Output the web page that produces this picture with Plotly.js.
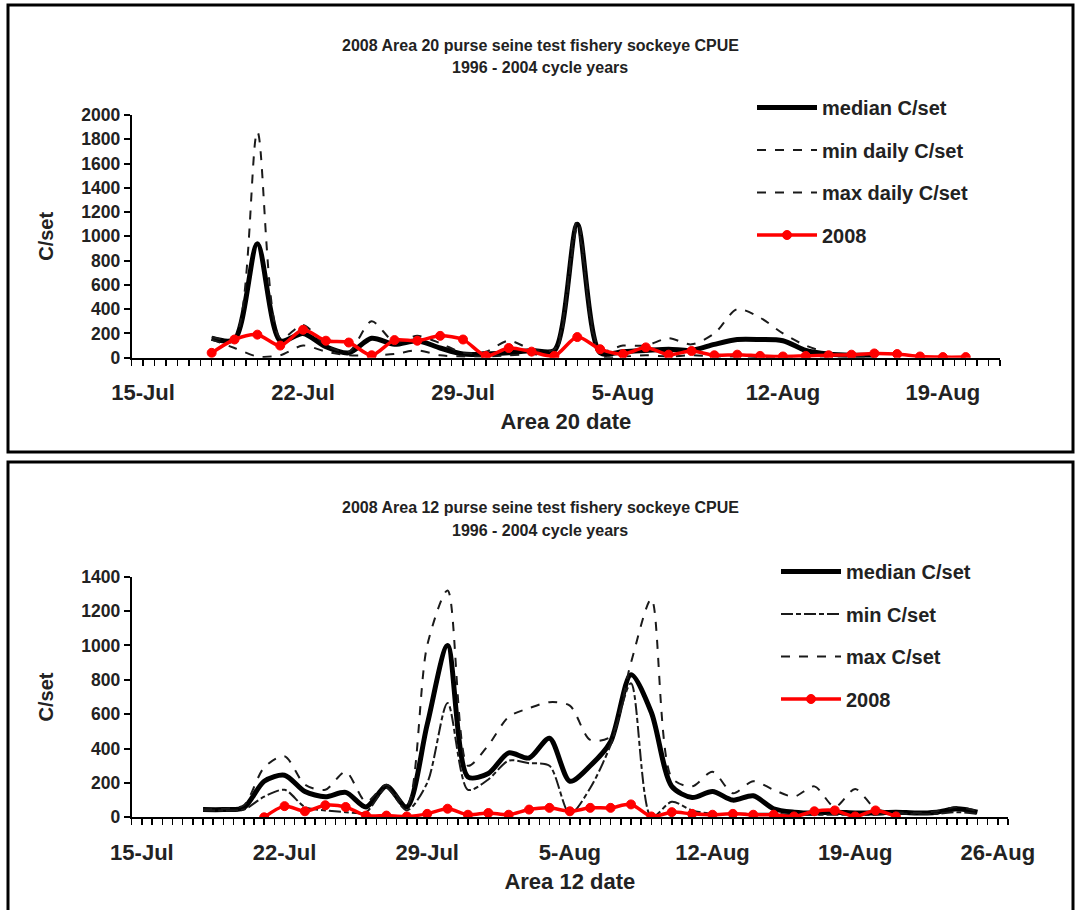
<!DOCTYPE html>
<html>
<head>
<meta charset="utf-8">
<script src="https://cdn.plot.ly/plotly-3.0.1.min.js"></script>
<style>html,body{margin:0;padding:0;background:#fff;}#chart{width:1075px;height:910px;}</style>
</head>
<body>
<div id="chart"></div>
<script>
// ---------- Area 20 (top chart) ----------
const a20Dates = ['2008-07-18','2008-07-19','2008-07-20','2008-07-21','2008-07-22','2008-07-23','2008-07-24','2008-07-25','2008-07-26','2008-07-27','2008-07-28','2008-07-29','2008-07-30','2008-07-31','2008-08-01','2008-08-02','2008-08-03','2008-08-04','2008-08-05','2008-08-06','2008-08-07','2008-08-08','2008-08-09','2008-08-10','2008-08-11','2008-08-12','2008-08-13','2008-08-14','2008-08-15','2008-08-16'];
const a20Median = [160,150,940,140,200,90,40,160,110,140,80,30,30,40,60,60,1100,40,50,60,70,60,110,150,150,140,60,30,20,20];
const a20Min    = [150,80,10,20,100,50,20,20,30,60,20,10,10,20,30,30,1060,20,10,20,10,20,10,10,5,10,10,10,10,10];
const a20Max    = [170,160,1860,160,270,100,50,300,130,180,120,40,50,140,70,70,1130,60,100,100,160,110,200,400,330,200,100,40,30,30];
const a20Dates2008 = ['2008-07-18','2008-07-19','2008-07-20','2008-07-21','2008-07-22','2008-07-23','2008-07-24','2008-07-25','2008-07-26','2008-07-27','2008-07-28','2008-07-29','2008-07-30','2008-07-31','2008-08-01','2008-08-02','2008-08-03','2008-08-04','2008-08-05','2008-08-06','2008-08-07','2008-08-08','2008-08-09','2008-08-10','2008-08-11','2008-08-12','2008-08-13','2008-08-14','2008-08-15','2008-08-16','2008-08-17','2008-08-18','2008-08-19','2008-08-20'];
const a20Y2008  = [40,150,190,100,230,140,125,20,145,140,180,150,15,80,50,15,170,70,30,85,25,55,20,25,15,10,15,20,25,35,30,10,5,5];

// ---------- Area 12 (bottom chart) ----------
const a12Dates = ['2008-07-18','2008-07-19','2008-07-20','2008-07-21','2008-07-22','2008-07-23','2008-07-24','2008-07-25','2008-07-26','2008-07-27','2008-07-28','2008-07-29','2008-07-30','2008-07-31','2008-08-01','2008-08-02','2008-08-03','2008-08-04','2008-08-05','2008-08-06','2008-08-07','2008-08-08','2008-08-09','2008-08-10','2008-08-11','2008-08-12','2008-08-13','2008-08-14','2008-08-15','2008-08-16','2008-08-17','2008-08-18','2008-08-19','2008-08-20','2008-08-21','2008-08-22','2008-08-23','2008-08-24','2008-08-25'];
const a12Median = [45,45,55,210,245,150,120,145,60,180,60,540,1000,235,255,375,345,460,210,300,440,830,610,180,115,150,100,125,50,30,25,30,25,25,30,25,30,50,30];
const a12Min    = [40,40,45,120,160,60,40,30,30,170,40,200,665,160,220,330,315,300,20,170,420,780,0,90,40,20,20,20,20,15,15,15,15,15,20,20,20,30,20];
const a12Max    = [45,50,70,290,355,190,160,265,90,190,70,1000,1320,300,420,585,635,670,650,450,470,900,1270,230,180,265,140,210,160,120,180,60,165,50,30,25,35,60,35];
const a12Dates2008 = ['2008-07-21','2008-07-22','2008-07-23','2008-07-24','2008-07-25','2008-07-26','2008-07-27','2008-07-28','2008-07-29','2008-07-30','2008-07-31','2008-08-01','2008-08-02','2008-08-03','2008-08-04','2008-08-05','2008-08-06','2008-08-07','2008-08-08','2008-08-09','2008-08-10','2008-08-11','2008-08-12','2008-08-13','2008-08-14','2008-08-15','2008-08-16','2008-08-17','2008-08-18','2008-08-19','2008-08-20','2008-08-21'];
const a12Y2008  = [0,65,35,70,60,10,10,5,20,50,15,25,15,45,55,35,55,55,75,5,30,20,15,20,15,15,5,35,40,5,40,5];

const topTitle = ['2008 Area 20 purse seine test fishery sockeye CPUE','1996 - 2004 cycle years'];
const botTitle = ['2008 Area 12 purse seine test fishery sockeye CPUE','1996 - 2004 cycle years'];
const topNames = ['median C/set','min daily C/set','max daily C/set','2008'];
const botNames = ['median C/set','min C/set','max C/set','2008'];

const W = 1075, H = 910;
const px = v => v / W;
const py = v => 1 - v / H;

const thin = '#1a1a1a';
const medLine = {color:'#000', width:5, shape:'spline', smoothing:0.8};
const redMarker = {symbol:'circle', size:9, color:'#ff0000', line:{color:'#ff0000', width:1}};

function series(x, y, name, line, xa, ya, leg, grp, marker){
  const t = {x:x, y:y, name:name, type:'scatter', mode: marker ? 'lines+markers' : 'lines',
    line: line, xaxis: xa, yaxis: ya, legend: leg, legendgroup: grp, hoverinfo:'skip'};
  if (marker) t.marker = marker;
  return t;
}

const traces = [
  series(a20Dates, a20Median, topNames[0], medLine, 'x', 'y', 'legend', 'a', null),
  series(a20Dates, a20Min, topNames[1], {color:thin, width:2, dash:'dash', shape:'spline', smoothing:0.8}, 'x', 'y', 'legend', 'b', null),
  series(a20Dates, a20Max, topNames[2], {color:thin, width:2, dash:'dash', shape:'spline', smoothing:0.8}, 'x', 'y', 'legend', 'c', null),
  series(a20Dates2008, a20Y2008, topNames[3], {color:'#ff0000', width:3.5, shape:'spline', smoothing:0.8}, 'x', 'y', 'legend', 'd', redMarker),
  series(a12Dates, a12Median, botNames[0], medLine, 'x2', 'y2', 'legend2', 'e', null),
  series(a12Dates, a12Min, botNames[1], {color:thin, width:2, dash:'12px,3px,5px,3px', shape:'spline', smoothing:0.8}, 'x2', 'y2', 'legend2', 'f', null),
  series(a12Dates, a12Max, botNames[2], {color:thin, width:2, dash:'dash', shape:'spline', smoothing:0.8}, 'x2', 'y2', 'legend2', 'g', null),
  series(a12Dates2008, a12Y2008, botNames[3], {color:'#ff0000', width:3.5, shape:'spline', smoothing:0.8}, 'x2', 'y2', 'legend2', 'h', redMarker)
];

const fontFam = '"Liberation Sans", Arial, sans-serif';
const HALF_DAY = 43200000;

function xAxis(domain, range, anchor, title){
  return {
    domain: domain, anchor: anchor, type:'date', range: range,
    tick0:'2008-07-15', dtick: 7*86400000, tickformat:'%-d-%b',
    ticks:'outside', ticklen:6, tickwidth:1.5, tickcolor:'#000',
    minor:{dtick: HALF_DAY, ticks:'outside', ticklen:6, tickwidth:1.5, tickcolor:'#000', showgrid:false},
    showline:true, linecolor:'#000', linewidth:2, showgrid:false, zeroline:false,
    tickfont:{size:22, color:'#222', weight:700}, ticklabelstandoff:8,
    title:{text:title, font:{size:22, color:'#222', weight:700}, standoff:10},
    fixedrange:true
  };
}
function yAxis(domain, range, anchor){
  return {
    domain: domain, anchor: anchor, range: range, dtick:200,
    ticks:'outside', ticklen:6, tickwidth:2, tickcolor:'#000',
    showline:true, linecolor:'#000', linewidth:2, showgrid:false, zeroline:false,
    tickfont:{size:17.5, color:'#222', weight:700},
    title:{text:'C/set', font:{size:20, color:'#222', weight:700}, standoff:22},
    fixedrange:true
  };
}

const annotations = [];
function addTitle(lines, y1, y2){
  annotations.push({xref:'paper', yref:'paper', x:px(540), y:py(y1), text:lines[0], showarrow:false, xanchor:'center', yanchor:'middle', font:{size:16, color:'#222', weight:700}});
  annotations.push({xref:'paper', yref:'paper', x:px(540), y:py(y2), text:lines[1], showarrow:false, xanchor:'center', yanchor:'middle', font:{size:16, color:'#222', weight:700}});
}
addTitle(topTitle, 45, 68);
addTitle(botTitle, 507, 530);

const layout = {
  width: W, height: H,
  margin:{l:0, r:0, t:0, b:0},
  paper_bgcolor:'#fff', plot_bgcolor:'rgba(0,0,0,0)',
  font:{family: fontFam, color:'#222'},
  showlegend:true,
  xaxis: xAxis([px(131.7), px(1000)], ['2008-07-14 12:00','2008-08-21 12:00'], 'y', 'Area 20 date'),
  yaxis: yAxis([py(357.7), py(115)], [0, 2000], 'x'),
  xaxis2: xAxis([px(131.7), px(1008)], ['2008-07-14 12:00','2008-08-26 12:00'], 'y2', 'Area 12 date'),
  yaxis2: yAxis([py(817.3), py(576.7)], [0, 1400], 'x2'),
  legend:{x:px(752), y:py(88), xanchor:'left', yanchor:'top', bgcolor:'rgba(0,0,0,0)', borderwidth:0,
    font:{size:20, color:'#222', weight:700}, tracegroupgap:13.5, itemwidth:60, traceorder:'grouped'},
  legend2:{x:px(776), y:py(552), xanchor:'left', yanchor:'top', bgcolor:'rgba(0,0,0,0)', borderwidth:0,
    font:{size:20, color:'#222', weight:700}, tracegroupgap:13.5, itemwidth:60, traceorder:'grouped'},
  annotations: annotations,
  shapes:[
    {type:'rect', xref:'paper', yref:'paper', x0:px(8), x1:px(1073), y0:py(452), y1:py(5), line:{color:'#000', width:3}, fillcolor:'rgba(0,0,0,0)', layer:'below'},
    {type:'rect', xref:'paper', yref:'paper', x0:px(8), x1:px(1073), y0:py(915), y1:py(462), line:{color:'#000', width:3}, fillcolor:'rgba(0,0,0,0)', layer:'below'}
  ]
};

Plotly.newPlot('chart', traces, layout, {staticPlot:true, displayModeBar:false});
</script>
</body>
</html>
